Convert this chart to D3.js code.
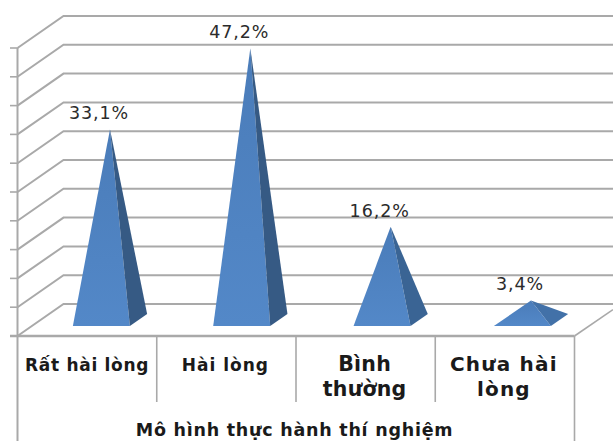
<!DOCTYPE html>
<html>
<head>
<meta charset="utf-8">
<script src="https://cdn.jsdelivr.net/npm/d3@7"></script>
<style>
html,body{margin:0;padding:0;background:#fff;overflow:hidden}
svg{display:block}
text{font-family:"DejaVu Sans",sans-serif}
</style>
</head>
<body>
<svg id="chart" width="613" height="441"></svg>
<script>
// Satisfaction survey results, one pyramid per answer
const categories = ["Rất hài lòng", "Hài lòng", "Bình thường", "Chưa hài lòng"];
const categoryLines = [["Rất hài lòng"], ["Hài lòng"], ["Bình", "thường"], ["Chưa hài", "lòng"]];
const values = [33.1, 47.2, 16.2, 3.4];
const valueLabels = ["33,1%", "47,2%", "16,2%", "3,4%"];
const gridTicks = [0, 5, 10, 15, 20, 25, 30, 35, 40, 45, 50];
const axisTitle = "Mô hình thực hành thí nghiệm";

const svg = d3.select("#chart");
const GRID = "#a9a9a9";

// Oblique projection: depth 0 is the front edge of the floor, depth 1 the back wall
const depthX = 46, depthY = -32;
const y = d3.scaleLinear().domain([0, 50]).range([336, 48]);
const bands = d3.scaleBand().domain(categories).range([17.5, 574.5]);
const markCenter = d3.scalePoint().domain(categories).range([87, 508]);
const project = (x, v, d) => [x + depthX * d, y(v) + depthY * d];

const lineGen = d3.line();
const stroke = (pts, w = 2, col = GRID) => svg.append("path")
  .attr("d", lineGen(pts)).attr("fill", "none").attr("stroke", col).attr("stroke-width", w);

// Wall grid: tick, diagonal on the side wall, then the run along the back wall
gridTicks.forEach(t => {
  const front = project(17.5, t, 0), back = project(17.5, t, 1);
  stroke([[10, front[1]], front], 1.6);
  stroke([front, back, [613, back[1]]], 2);
});

// Floor edges and category dividers
const x0 = bands.range()[0], x1 = bands.range()[1];
stroke([[x0, y(50)], [x0, 441]], 2);
stroke([[10, y(0)], [x1, y(0)]], 2.4);
stroke([[x1, y(0)], [x1, 441]], 1.6);
stroke([[x1, y(0)], [613, y(0) + depthY * 38 / depthX]], 1.6);
categories.slice(1).forEach(c => stroke([[bands(c), y(0)], [bands(c), 402]], 1.6));

// Pyramids: two visible faces meeting along the front right edge
const halfWidth = 28.5, nearDepth = 0.3125, farDepth = 0.6875, midDepth = 0.5;
const sideShade = d3.scaleLinear().domain([3.4, 16.2, 33.1]).range(["#4271a8", "#3a6494", "#365a84"]).clamp(true);

const defs = svg.append("defs");
const frontGrad = defs.append("linearGradient").attr("id", "frontFace")
  .attr("x1", 0).attr("y1", 0).attr("x2", 0).attr("y2", 1);
frontGrad.append("stop").attr("offset", 0).attr("stop-color", "#4a7cb9");
frontGrad.append("stop").attr("offset", 1).attr("stop-color", "#5388c8");

categories.forEach((c, i) => {
  const cx = markCenter(c);
  const apex = project(cx, values[i], midDepth);
  const nearL = project(cx - halfWidth, 0, nearDepth);
  const nearR = project(cx + halfWidth, 0, nearDepth);
  const farR = project(cx + halfWidth, 0, farDepth);
  svg.append("path").attr("d", lineGen([apex, nearL, nearR]) + "Z").attr("fill", "url(#frontFace)");
  svg.append("path").attr("d", lineGen([apex, nearR, farR]) + "Z").attr("fill", sideShade(values[i]));
  // Value labels sit up and to the left of the apex
  svg.append("text").attr("x", apex[0] - 11).attr("y", apex[1] - 10)
    .attr("text-anchor", "middle").attr("font-size", 17.5).attr("letter-spacing", 0.9).attr("fill", "#2b2b2b")
    .text(valueLabels[i]);
});

// Category labels, wrapped inside their cells
const labelSize = [17, 17, 20.5, 20];
const labelSpacing = [0.7, 1, 0.2, 1.2];
categoryLines.forEach((lines, i) => {
  const t = svg.append("text").attr("text-anchor", "middle")
    .attr("font-weight", "bold").attr("font-size", labelSize[i])
    .attr("letter-spacing", labelSpacing[i]).attr("fill", "#1a1a1a");
  lines.forEach((l, k) => t.append("tspan")
    .attr("x", bands(categories[i]) + bands.bandwidth() / 2 + [0, -1, -1, -1][i])
    .attr("y", 371 + k * 24.5).text(l));
});

svg.append("text").attr("x", 294.5).attr("y", 436).attr("text-anchor", "middle")
  .attr("font-weight", "bold").attr("font-size", 17.5).attr("letter-spacing", 0.75).attr("fill", "#1a1a1a").text(axisTitle);
</script>
</body>
</html>
